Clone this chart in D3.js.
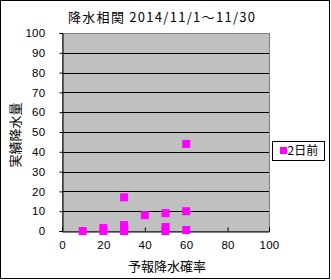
<!DOCTYPE html>
<html>
<head>
<meta charset="utf-8">
<script src="https://cdn.jsdelivr.net/npm/d3@7"></script>
<style>
  body { margin: 0; background: #fff; }
  text { font-family: "Noto Sans CJK JP", "DejaVu Sans", sans-serif; fill: #000; }
</style>
</head>
<body>
<svg id="chart"></svg>
<script>
// data
let titleText = "降水相関 2014/11/1～11/30";
let seriesName = "2日前";
let forecastProb = [10, 20, 20, 30, 30, 30, 30, 40, 50, 50, 50, 60, 60, 60];
let actualRain   = [0, 0, 1.5, 0, 1, 3, 17, 8, 0, 2, 9, 0.5, 10, 44];
let xTicks = [0, 20, 40, 60, 80, 100];
let yTicks = [0, 10, 20, 30, 40, 50, 60, 70, 80, 90, 100];

let width = 331;
let height = 280;
let plot = {left: 62, top: 33, right: 269, bottom: 231};
let markSize = 8;

let svg = d3.select('#chart')
  .attr('width', width)
  .attr('height', height);

// outer frame
svg.append('rect')
  .attr('x', 0.5).attr('y', 0.5)
  .attr('width', width - 2).attr('height', height - 2)
  .attr('fill', '#fff')
  .attr('stroke', '#000');

let x = d3.scaleLinear().domain([0, 100]).range([plot.left, plot.right]);
let y = d3.scaleLinear().domain([0, 100]).range([plot.bottom, plot.top]);

// plot area
svg.append('rect')
  .attr('x', plot.left + 0.5).attr('y', plot.top + 0.5)
  .attr('width', plot.right - plot.left).attr('height', plot.bottom - plot.top)
  .attr('fill', '#c0c0c0')
  .attr('stroke', '#808080');

// gridlines
svg.append('g')
  .selectAll('line')
  .data(yTicks.filter(d => d > 0 && d < 100))
  .enter()
  .append('line')
    .attr('x1', plot.left).attr('x2', plot.right)
    .attr('y1', d => Math.round(y(d)) + 0.5)
    .attr('y2', d => Math.round(y(d)) + 0.5)
    .attr('stroke', '#000');

// axes
let yAxis = svg.append('g')
  .attr('transform', `translate(${plot.left + 0.5},0)`)
  .call(d3.axisLeft(y).tickValues(yTicks).tickSize(3).tickPadding(14));
let xAxis = svg.append('g')
  .attr('transform', `translate(0,${plot.bottom + 0.5})`)
  .call(d3.axisBottom(x).tickValues(xTicks).tickSize(-4).tickPadding(9));

[yAxis, xAxis].forEach(a => {
  a.select('.domain').attr('stroke', '#000');
  a.selectAll('.tick line').attr('stroke', '#000');
  a.selectAll('text')
    .style('font-family', '"Liberation Sans", sans-serif')
    .style('font-size', '11.5px')
    .style('letter-spacing', '0.3px');
});

// points
svg.append('g')
  .selectAll('rect')
  .data(forecastProb.map((p, i) => ({p: p, r: actualRain[i]})))
  .enter()
  .append('rect')
    .attr('x', d => x(d.p) - markSize / 2)
    .attr('y', d => y(d.r) - markSize / 2)
    .attr('width', markSize)
    .attr('height', markSize)
    .attr('fill', '#ff00ff');

// titles
svg.append('text')
  .attr('x', 68).attr('y', 22)
  .attr('textLength', 187)
  .attr('lengthAdjust', 'spacing')
  .style('font-size', '13px')
  .text(titleText);

svg.append('text')
  .attr('transform', 'translate(20,135) rotate(-90)')
  .attr('text-anchor', 'middle')
  .style('font-size', '13px')
  .text('実績降水量');

svg.append('text')
  .attr('x', 167).attr('y', 271)
  .attr('text-anchor', 'middle')
  .style('font-size', '13px')
  .text('予報降水確率');

// legend
let legend = svg.append('g').attr('transform', 'translate(272.5,141.5)');
legend.append('rect')
  .attr('width', 52).attr('height', 19)
  .attr('fill', '#fff').attr('stroke', '#000');
legend.append('rect')
  .attr('x', 7.5).attr('y', 5.5)
  .attr('width', 7).attr('height', 7)
  .attr('fill', '#ff00ff');
legend.append('text')
  .attr('x', 15).attr('y', 13.5)
  .style('font-size', '12px')
  .text(seriesName);
</script>
</body>
</html>
